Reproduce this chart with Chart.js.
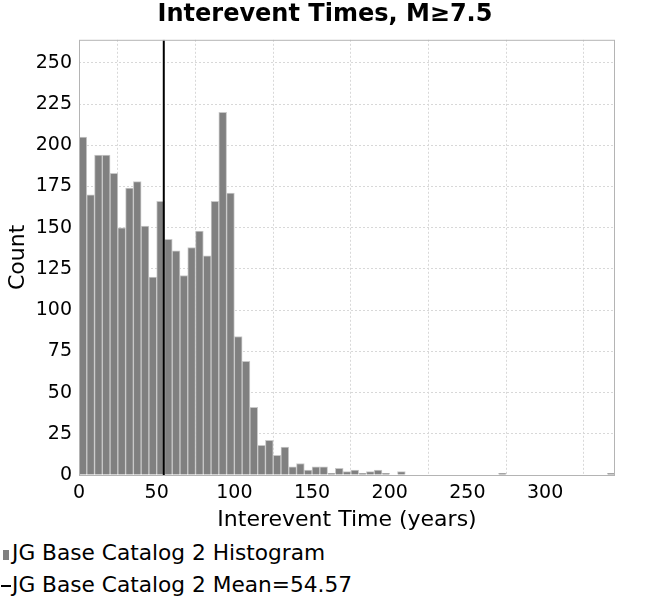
<!DOCTYPE html>
<html>
<head>
<meta charset="utf-8">
<script src="https://cdn.jsdelivr.net/npm/chart.js@4/dist/chart.umd.min.js"></script>
<style>
  body { margin: 0; background: #fff; font-family: 'DejaVu Sans', sans-serif; }
  #wrap { position: relative; width: 650px; height: 535px; }
  #legend { position: absolute; left: 0; top: 535px; width: 650px; font-size: 21.7px; color: #000; }
  .item { position: absolute; left: 0; white-space: nowrap; }
  .sq { display: inline-block; width: 6px; height: 10px; background: #808080; margin-left: 3px; margin-right: 3px; }
  .ln { display: inline-block; width: 10px; height: 2px; background: #000; vertical-align: middle; margin-left: 1px; margin-right: 1px; }
</style>
</head>
<body>
<div id="wrap"><canvas id="c" width="650" height="535"></canvas></div>
<div id="legend">
  <div class="item" style="top:5px"><span class="sq"></span>JG Base Catalog 2 Histogram</div>
  <div class="item" style="top:37px"><span class="ln"></span>JG Base Catalog 2 Mean=54.57</div>
</div>
<script>
  'use strict';

  /* global Chart */

  // histogram bins, 5 years wide, starting at 0
  var binWidth = 5;
  var binStarts = [
    0, 5, 10, 15, 20, 25, 30, 35, 40, 45,
    50, 55, 60, 65, 70, 75, 80, 85, 90, 95,
    100, 105, 110, 115, 120, 125, 130, 135, 140, 145,
    150, 155, 160, 165, 170, 175, 180, 185, 190, 195,
    200, 205, 210, 215, 220, 225, 230, 235, 240, 245,
    250, 255, 260, 265, 270, 275, 280, 285, 290, 295,
    300, 305, 310, 315, 320, 325, 330, 335, 340
  ];
  var counts = [
    205, 170, 194, 194, 183, 150, 174, 178, 151, 120,
    166, 143, 136, 121, 138, 148, 133, 166, 220, 171,
    84, 69, 41, 18, 21, 12, 17, 5, 7, 3,
    5, 5, 1, 4, 2, 3, 1, 2, 3, 1,
    0, 2, 0, 0, 0, 0, 0, 0, 0, 0,
    0, 0, 0, 0, 1, 0, 0, 0, 0, 0,
    0, 0, 0, 0, 0, 0, 0, 0, 1
  ];
  var meanValue = 54.57;
  var xMax = 345;
  var yMax = 264;

  var histData = binStarts.map(function (s, i) {
    return { x: s + binWidth / 2, y: counts[i] };
  });

  var frame = {
    id: 'frame',
    afterLayout: function (chart) {
      // centre the title on the whole canvas, not the padded box
      if (chart.titleBlock) {
        chart.titleBlock.left = 0;
        chart.titleBlock.right = chart.width;
      }
    },
    afterDraw: function (chart) {
      var a = chart.chartArea;
      var ctx = chart.ctx;
      ctx.save();
      ctx.strokeStyle = '#b4b4b4';
      ctx.lineWidth = 1;
      ctx.strokeRect(a.left + 0.5, a.top + 0.5, a.right - a.left - 1, a.bottom - a.top);
      ctx.restore();
    }
  };

  function keepMultiples(step) {
    return function (s) {
      s.ticks = s.ticks.filter(function (t) { return t.value % step === 0; });
    };
  }

  var tickFont = { family: "'DejaVu Sans'", size: 19 };

  new Chart(document.getElementById('c'), {
    data: {
      datasets: [{
        type: 'bar',
        label: 'JG Base Catalog 2 Histogram',
        data: histData,
        backgroundColor: '#808080',
        borderColor: '#c8c8c8',
        borderWidth: 1,
        barPercentage: 1,
        categoryPercentage: 1,
        order: 2
      }, {
        type: 'line',
        label: 'JG Base Catalog 2 Mean=54.57',
        data: [{ x: meanValue, y: 0 }, { x: meanValue, y: yMax }],
        borderColor: '#000',
        borderWidth: 2,
        pointRadius: 0,
        order: 1
      }]
    },
    options: {
      responsive: false,
      animation: false,
      layout: { padding: { left: 0, right: 35, top: 0, bottom: 0 } },
      plugins: {
        legend: { display: false },
        tooltip: { enabled: false },
        title: {
          display: true,
          text: 'Interevent Times, M≥7.5',
          color: '#000',
          font: { family: "'DejaVu Sans'", size: 24, weight: 'bold' },
          padding: { top: 0, bottom: 11 }
        }
      },
      scales: {
        x: {
          type: 'linear',
          min: 0,
          max: xMax,
          offset: false,
          afterBuildTicks: keepMultiples(50),
          ticks: { stepSize: 50, color: '#000', font: tickFont, padding: 7, maxRotation: 0 },
          grid: { color: '#d8d8d8', drawTicks: false },
          border: { display: false, dash: [2, 2] },
          title: {
            display: true,
            text: 'Interevent Time (years)',
            color: '#000',
            font: { family: "'DejaVu Sans'", size: 22 },
            padding: { top: 2, bottom: 2 }
          },
          afterFit: function (s) { s.height = 60; }
        },
        y: {
          min: 0,
          max: yMax,
          afterBuildTicks: keepMultiples(25),
          ticks: { stepSize: 25, color: '#000', font: tickFont, padding: 7 },
          grid: { color: '#d8d8d8', drawTicks: false },
          border: { display: false, dash: [2, 2] },
          title: {
            display: true,
            text: 'Count',
            color: '#000',
            font: { family: "'DejaVu Sans'", size: 22 },
            padding: { top: 5, bottom: 0 }
          },
          afterFit: function (s) { s.width = 79; }
        }
      }
    },
    plugins: [frame]
  });
</script>
</body>
</html>
